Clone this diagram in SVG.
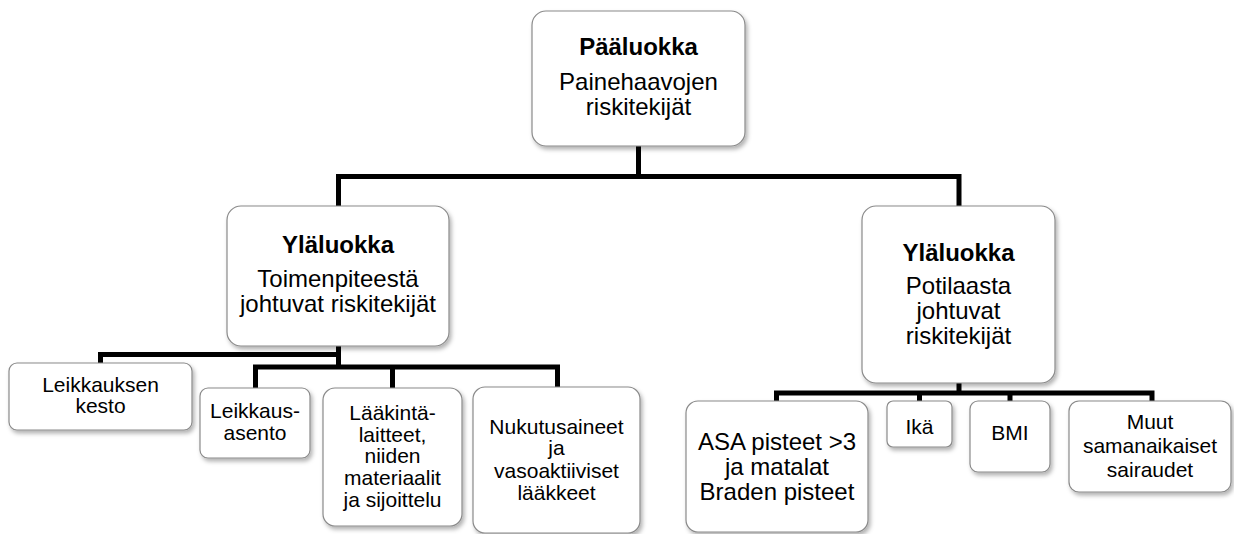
<svg xmlns="http://www.w3.org/2000/svg" width="1234" height="534" viewBox="0 0 1234 534">
<style>
.box{fill:#ffffff;stroke:#8a8a8a;stroke-width:1.2;filter:url(#sh)}
.t{font-family:"Liberation Sans",Arial,sans-serif;fill:#000;text-anchor:middle}
.b{font-weight:bold}
.l{font-size:24px}
.s{font-size:21px}
.c{fill:none;stroke:#000;stroke-width:5;stroke-linejoin:miter}
</style>
<defs>
<filter id="sh" x="-10%" y="-10%" width="125%" height="130%">
<feDropShadow dx="2" dy="3" stdDeviation="2" flood-color="#000" flood-opacity="0.3"/>
</filter>
</defs>
<rect width="1234" height="534" fill="#fff"/>
<g id="connectors">
<path class="c" d="M638.5 146 V176.5"/>
<path class="c" d="M338.5 206 V176.5 H959 V206"/>
<path class="c" d="M338.5 346 V369"/>
<path class="c" d="M100.5 363 V354.5 H338.5"/>
<path class="c" d="M255.5 388 V367 H557.5 V388"/>
<path class="c" d="M392.5 367 V388"/>
<path class="c" d="M959 383 V393"/>
<path class="c" d="M776.5 401 V393 H1152 V401"/>
<path class="c" d="M919.5 393 V401"/>
<path class="c" d="M1010 393 V401"/>
</g>
<g id="root">
<rect class="box" x="532" y="11" width="213" height="135" rx="14"/>
<text class="t b l" x="638.5" y="55">Pääluokka</text>
<text class="t l" x="638.5" y="90">Painehaavojen</text>
<text class="t l" x="638.5" y="115">riskitekijät</text>
</g>
<g id="left-class">
<rect class="box" x="227" y="206" width="222" height="140" rx="14"/>
<text class="t b l" x="338" y="253">Yläluokka</text>
<text class="t l" x="338" y="287">Toimenpiteestä</text>
<text class="t l" x="338" y="312">johtuvat riskitekijät</text>
</g>
<g id="right-class">
<rect class="box" x="862" y="206" width="193" height="177" rx="14"/>
<text class="t b l" x="958.5" y="261">Yläluokka</text>
<text class="t l" x="958.5" y="294">Potilaasta</text>
<text class="t l" x="958.5" y="319">johtuvat</text>
<text class="t l" x="958.5" y="344">riskitekijät</text>
</g>
<g id="kesto">
<rect class="box" x="9" y="363" width="183" height="67" rx="8"/>
<text class="t s" x="100.5" y="392">Leikkauksen</text>
<text class="t s" x="100.5" y="413">kesto</text>
</g>
<g id="asento">
<rect class="box" x="200" y="388" width="110" height="70" rx="8"/>
<text class="t s" x="255" y="418">Leikkaus-</text>
<text class="t s" x="255" y="440">asento</text>
</g>
<g id="laitteet">
<rect class="box" x="323" y="388" width="139" height="138" rx="12"/>
<text class="t s" x="392.5" y="420">Lääkintä-</text>
<text class="t s" x="392.5" y="442">laitteet,</text>
<text class="t s" x="392.5" y="463">niiden</text>
<text class="t s" x="392.5" y="485">materiaalit</text>
<text class="t s" x="392.5" y="507">ja sijoittelu</text>
</g>
<g id="nukutus">
<rect class="box" x="473" y="387" width="167" height="146" rx="12"/>
<text class="t s" x="556.5" y="434">Nukutusaineet</text>
<text class="t s" x="556.5" y="455">ja</text>
<text class="t s" x="556.5" y="478">vasoaktiiviset</text>
<text class="t s" x="556.5" y="500">lääkkeet</text>
</g>
<g id="asa">
<rect class="box" x="686" y="401" width="182" height="131" rx="12"/>
<text class="t l" x="777" y="450">ASA pisteet &gt;3</text>
<text class="t l" x="777" y="475">ja matalat</text>
<text class="t l" x="777" y="500">Braden pisteet</text>
</g>
<g id="ika">
<rect class="box" x="887" y="401" width="65" height="46" rx="6"/>
<text class="t s" x="919.5" y="434">Ikä</text>
</g>
<g id="bmi">
<rect class="box" x="970" y="401" width="80" height="71" rx="8"/>
<text class="t s" x="1010" y="440">BMI</text>
</g>
<g id="muut">
<rect class="box" x="1069" y="401" width="162" height="91" rx="10"/>
<text class="t s" x="1150" y="429">Muut</text>
<text class="t s" x="1150" y="453">samanaikaiset</text>
<text class="t s" x="1150" y="477">sairaudet</text>
</g>
</svg>
